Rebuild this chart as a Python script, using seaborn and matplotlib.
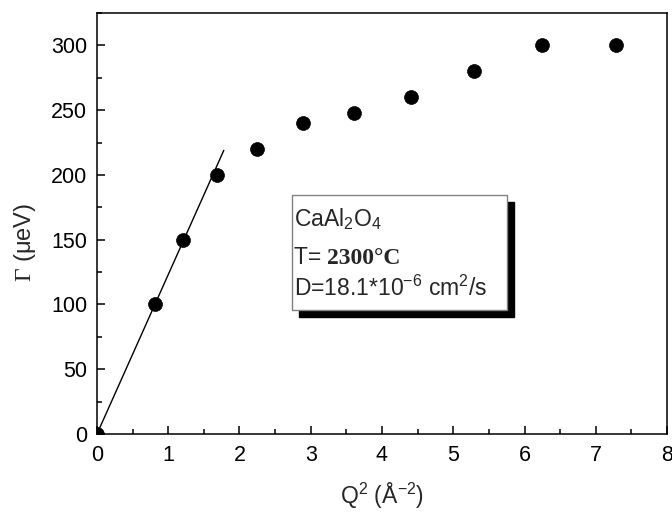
import matplotlib
matplotlib.use("Agg")
import matplotlib.pyplot as plt
import seaborn as sns
from matplotlib.patches import Rectangle
from matplotlib.ticker import MultipleLocator

# data
q2 = [0.0, 0.81, 1.21, 1.69, 2.25, 2.89, 3.61, 4.41, 5.29, 6.25, 7.29]
gamma = [0, 100, 150, 200, 220, 240, 248, 260, 280, 300, 300]

# linear fit drawn through the low-Q points
fit_q2 = [0.0, 1.78]
fit_gamma = [0, 219]

sns.set_style("ticks")
plt.rcParams["font.family"] = ["Liberation Sans", "DejaVu Sans"]
plt.rcParams["mathtext.fontset"] = "custom"
plt.rcParams["mathtext.rm"] = "Liberation Sans"
plt.rcParams["mathtext.it"] = "Liberation Sans"
# serif Gamma for the y label
plt.rcParams["mathtext.sf"] = "Liberation Serif"

fig = plt.figure(figsize=(6.72, 5.12), dpi=100)
ax = fig.add_axes([0.1443, 0.1523, 0.8483, 0.8223])

sns.lineplot(x=fit_q2, y=fit_gamma, ax=ax, color="black", linewidth=1.0)
sns.scatterplot(x=q2, y=gamma, ax=ax, color="black", s=100, edgecolor="black", linewidth=0.5, zorder=3)

ax.set_xlim(0, 8)
ax.set_ylim(0, 325)
ax.xaxis.set_major_locator(MultipleLocator(1))
ax.xaxis.set_minor_locator(MultipleLocator(0.5))
ax.yaxis.set_major_locator(MultipleLocator(50))
ax.yaxis.set_minor_locator(MultipleLocator(25))
ax.tick_params(which="both", direction="in", colors="black", labelsize=15.5, width=1.1)
ax.tick_params(which="major", length=6)
ax.tick_params(which="minor", length=3.5)
ax.tick_params(axis="x", pad=8)
ax.tick_params(axis="y", pad=7)
for sp in ax.spines.values():
    sp.set_visible(True)
    sp.set_linewidth(1.1)
    sp.set_color("black")

ax.set_xlabel(r"Q$^{2}$ ($\mathrm{\AA}^{-2}$)", fontsize=16.5)
ax.set_ylabel(r"$\mathsf{\Gamma}$ (μeV)", fontsize=17)
ax.xaxis.set_label_coords(0.5, -0.112)
ax.yaxis.set_label_coords(-0.104, 0.454)

# text box with drop shadow
bx0, by0, bx1, by1 = 0.342, 0.2945, 0.719, 0.5677
dx, dy = 0.0123, 0.0166
ax.add_patch(Rectangle((bx0 + dx, by0 - dy), bx1 - bx0, by1 - by0, transform=ax.transAxes,
                       facecolor="black", edgecolor="black", zorder=4))
ax.add_patch(Rectangle((bx0, by0), bx1 - bx0, by1 - by0, transform=ax.transAxes,
                       facecolor="white", edgecolor="#808080", linewidth=1.0, zorder=5))

tx = 0.345
ax.text(tx, 0.494, r"CaAl$_{2}$O$_{4}$", transform=ax.transAxes, fontsize=16.5,
        va="baseline", zorder=6)
t_lbl = ax.text(tx, 0.404, "T= ", transform=ax.transAxes, fontsize=16.5,
                va="baseline", zorder=6)
ax.annotate("2300°C", xy=(1, 0), xycoords=t_lbl, va="bottom", ha="left",
            fontsize=17, fontweight="bold", family="Liberation Serif", zorder=6)
ax.text(tx, 0.328, r"D=18.1*10$^{-6}$ cm$^{2}$/s", transform=ax.transAxes, fontsize=16.5,
        va="baseline", zorder=6)

fig.savefig("out.png", dpi=100)
